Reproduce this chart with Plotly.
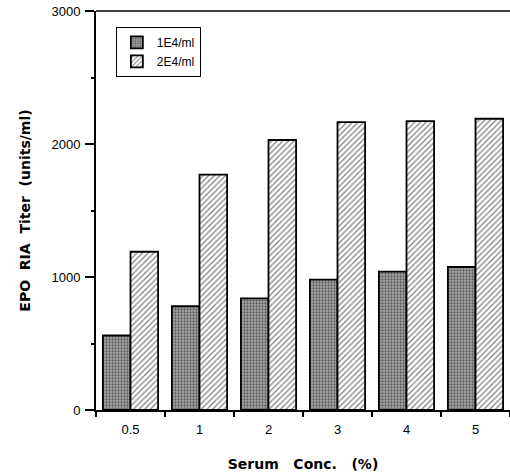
import plotly.graph_objects as go

categories = ["0.5", "1", "2", "3", "4", "5"]
series_1e4 = [560, 780, 840, 980, 1040, 1075]
series_2e4 = [1190, 1770, 2030, 2165, 2172, 2190]
y_ticks = [0, 1000, 2000, 3000]

fig = go.Figure()
fig.add_trace(go.Bar(
    x=categories, y=series_1e4, name="1E4/ml",
    marker=dict(color="#8e8e8e", line=dict(color="black", width=1.8),
                pattern=dict(shape=".", fgcolor="#111111", bgcolor="#a8a8a8", size=3, solidity=0.45)),
))
fig.add_trace(go.Bar(
    x=categories, y=series_2e4, name="2E4/ml",
    marker=dict(color="white", line=dict(color="black", width=1.8),
                pattern=dict(shape="/", fgcolor="black", bgcolor="white", size=4, solidity=0.3)),
))

fig.add_shape(type="line", xref="paper", yref="paper", x0=0, x1=1, y0=1, y1=1,
              line=dict(color="black", width=1.5))

fig.update_layout(
    width=510, height=476,
    margin=dict(l=96, r=0, t=11, b=66, autoexpand=False),
    paper_bgcolor="white", plot_bgcolor="white",
    barmode="group", bargap=0.2, bargroupgap=0,
    font=dict(family="Liberation Sans, Arial, sans-serif", size=13, color="black"),
    showlegend=True,
    legend=dict(x=0.048, y=0.96, xanchor="left", yanchor="top",
                bordercolor="black", borderwidth=1, bgcolor="white",
                font=dict(size=12), traceorder="normal",
                itemwidth=30, tracegroupgap=2),
    xaxis=dict(
        type="category", showline=True, linecolor="black", linewidth=1.8,
        ticks="outside", ticklen=5, tickcolor="black", tickwidth=1.5,
        tickson="boundaries", showgrid=False, ticklabelstandoff=6,
        automargin=False,
        title=dict(text="<b>Serum   Conc.   (%)</b>",
                   font=dict(size=14, family="DejaVu Sans, sans-serif"), standoff=24),
    ),
    yaxis=dict(
        range=[0, 3000], tickvals=y_ticks, showline=True, linecolor="black",
        linewidth=1.8, ticks="outside", ticklen=9, tickcolor="black", tickwidth=1.5,
        showgrid=False, zeroline=False, ticklabelstandoff=2, automargin=False,
        minor=dict(dtick=500, ticks="outside", ticklen=3, tickcolor="black", showgrid=False),
        title=dict(text="<b>EPO  RIA  Titer  (units/ml)</b>",
                   font=dict(size=14, family="DejaVu Sans, sans-serif"), standoff=18),
    ),
)

fig.write_html("out.html")
